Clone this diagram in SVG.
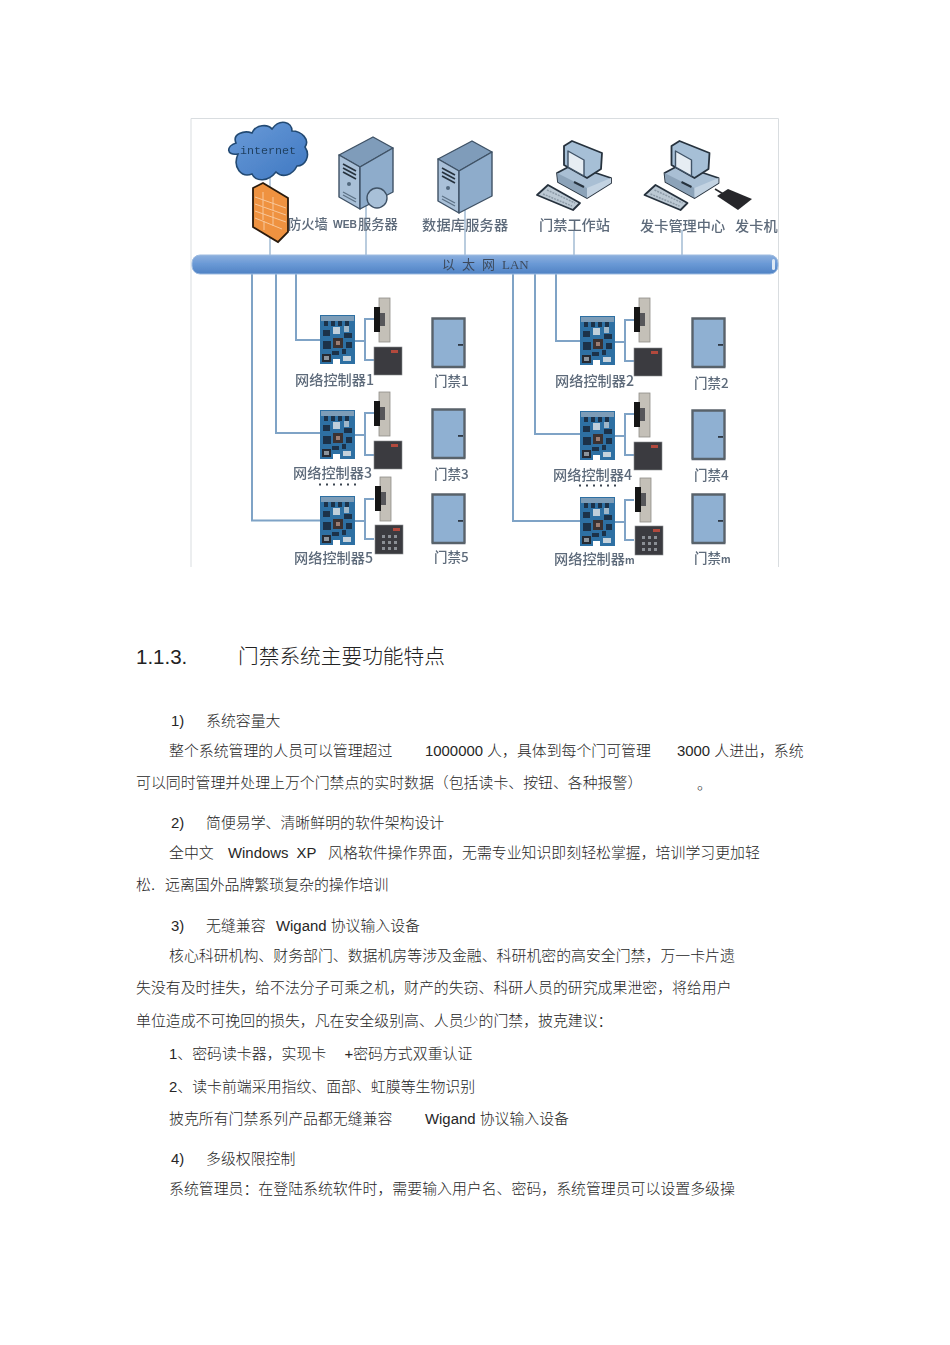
<svg xmlns="http://www.w3.org/2000/svg" width="950" height="1345" viewBox="0 0 950 1345">
<style>
.b{font-family:"Liberation Sans","Noto Sans CJK SC",sans-serif;font-size:14.9px;font-weight:300;fill:#262626}
.l{font-family:"Noto Sans CJK SC","Liberation Sans",sans-serif;font-size:14.2px;font-weight:500;fill:#5d6a7a}
.d{font-size:13.5px}
.m{font-size:10px;font-weight:700}
.f{font-size:13.3px}
.e{font-family:"Liberation Sans",sans-serif;font-size:11px;font-weight:700;fill:#5d6a7a}
.w{fill:none;stroke:#7fa3c6;stroke-width:2}
.t{fill:none;stroke:#a9c0d6;stroke-width:1.6}
.o{stroke:#27323e;stroke-width:1.8;stroke-linejoin:round}
.s{stroke:#3f5266;stroke-width:1.4;stroke-linejoin:round}
</style>
<defs>
<filter id="soft" x="-5%" y="-5%" width="110%" height="110%"><feGaussianBlur stdDeviation="0.7"/></filter>
<linearGradient id="bus" x1="0" y1="0" x2="0" y2="1"><stop offset="0" stop-color="#8db0de"/><stop offset=".45" stop-color="#6b9ad6"/><stop offset="1" stop-color="#4f82c4"/></linearGradient>
<linearGradient id="sky" x1="0" y1="0" x2="1" y2="1"><stop offset="0" stop-color="#6a9bd8"/><stop offset="1" stop-color="#3f78c2"/></linearGradient>
<g id="ctrl">
<rect width="35" height="49" fill="#2f6fa3"/>
<rect x="1" y="1" width="33" height="5" fill="#7d9db8"/>
<g fill="#1d3348"><rect x="4" y="6" width="4" height="5"/><rect x="11" y="6" width="4" height="5"/><rect x="18" y="6" width="4" height="5"/><rect x="25" y="6" width="4" height="5"/>
<rect x="3" y="15" width="7" height="6"/><rect x="24" y="18" width="8" height="5"/><rect x="3" y="26" width="8" height="8"/><rect x="26" y="27" width="6" height="6"/><rect x="12" y="36" width="7" height="4"/><rect x="22" y="34" width="4" height="5"/></g>
<rect x="13" y="12" width="7" height="7" fill="#c0cfdb"/><rect x="24" y="11" width="5" height="6" fill="#9fb6c8"/>
<rect x="13" y="23" width="10" height="10" fill="#3b3231"/><rect x="16" y="26" width="4" height="4" fill="#9b7d72"/>
<rect x="2" y="39" width="9" height="8" fill="#262c32"/><rect x="4" y="41" width="5" height="4" fill="#8b949c"/><rect x="23" y="41" width="8" height="5" fill="#c5d2dc"/><rect x="13" y="44" width="7" height="5" fill="#fff"/>
</g>
<g id="lock">
<rect x="5" y="0" width="11" height="44" fill="#c4c0b8" stroke="#8f8d88" stroke-width=".8"/>
<rect x="0" y="9" width="6" height="25" fill="#141414"/>
<rect x="6" y="15" width="5" height="13" fill="#56565a"/>
</g>
<g id="reader"><rect width="28" height="28" fill="#3a3b3f" stroke="#8a8d92" stroke-width=".6"/><rect x="17" y="3" width="7" height="3" fill="#b2483c"/></g>
<g id="keyreader"><rect width="28" height="29" fill="#3a3b3f" stroke="#8a8d92" stroke-width=".6"/><rect x="18" y="3" width="7" height="3" fill="#b2483c"/><g fill="#8b8f95"><rect x="7" y="10" width="3" height="3"/><rect x="13" y="10" width="3" height="3"/><rect x="19" y="10" width="3" height="3"/><rect x="7" y="16" width="3" height="3"/><rect x="13" y="16" width="3" height="3"/><rect x="19" y="16" width="3" height="3"/><rect x="7" y="22" width="3" height="3"/><rect x="13" y="22" width="3" height="3"/><rect x="19" y="22" width="3" height="3"/></g></g>
<g id="door"><rect x="1" y="1" width="33" height="49" fill="#8fb0d2"/><path d="M1.500,50V1.500H33.500V50M.5,50H34.500" fill="none" stroke="#59626b" stroke-width="2.400"/><rect x="27" y="27" width="5" height="1.800" fill="#2f3944"/></g>
<g id="server">
<polygon class="s" points="339,155 373,137 393,148 360,167" fill="#7f9cba"/>
<polygon class="s" points="339,155 360,167 360,209 339,197" fill="#a9c0d8"/>
<polygon class="s" points="360,167 393,148 393,192 360,209" fill="#8eaccb"/>
<path d="M343,164 356,171M343,168 356,175M343,172 356,179" stroke="#27323e" stroke-width="1.600"/>
<circle cx="349" cy="184" r="2" fill="#51677e"/>
<path d="M343,192 356,199M343,195 356,202" stroke="#5d7287" stroke-width="1.400"/>
</g>
<g id="pc">
<polygon class="o" points="557,173 572,165 611,178 611,183 587,198 558,182" fill="#a9bfd4"/>
<polygon points="557,173 587,188 587,198 558,182" fill="#8ca3b9"/>
<polygon points="587,188 611,178 611,183 587,198" fill="#c3d3e2"/>
<polygon class="o" points="564,146 572,141 602,153 601,169 587,178 564,165" fill="#a6bfd6"/>
<polygon class="s" points="568,151 584,160 584,176 568,167" fill="#e6edf3"/>
<path d="M574,182 584,187" stroke="#27323e" stroke-width="2"/>
<polygon class="o" points="537,195 548,185 580,203 573,210" fill="#bcc9d4"/>
<path d="M543,194 572,206M547,190 575,203" stroke="#8d9ba8" stroke-width="1.500" stroke-dasharray="2 1"/>
</g>
</defs>
<rect width="950" height="1345" fill="#fff"/>
<g id="frame" fill="none" stroke="#d9dde0" stroke-width="1"><path d="M191,567V118.500H778.500V567"/></g>
<g filter="url(#soft)">
<g id="connectors">
<path class="t" d="M270,178V256M366,205V256M465,210V256M574,230V256M682,230V256"/>
<path class="w" d="M296,274V340H321M276,274V433H321M252,274V520.500H321M556,274V341H581M535,274V434H581M513,274V521H581"/>
<path class="w" d="M355,341H365M374,319H365V360H374M355,435H365M374,413H365V455H374M355,521H365M374,499H365V539H374"/>
<path class="w" d="M615,342H625M634,320H625V361H634M615,436H625M634,414H625V455H634M615,522H625M634,500H625V540H634"/>
</g>
<g id="internet">
<path d="M238,154C226,156 226,146 236,143C232,134 244,130 252,133C256,124 268,124 272,129C280,118 292,122 292,131C302,131 310,140 305,147C311,156 305,166 297,166C292,176 282,178 276,172C268,182 256,182 252,174C242,178 232,168 238,154Z" fill="url(#sky)" stroke="#234a73" stroke-width="1.600"/>
<text x="240" y="154" font-family="'Liberation Mono',monospace" font-size="11.700" fill="#1f3f5f">internet</text>
</g>
<g id="firewall">
<polygon points="253,188 263,183 288,198 288,232 278,242 253,227" fill="#ef9240" stroke="#2b1a0c" stroke-width="1.800"/>
<path d="M255,197 286,208M255,204 286,215M255,211 286,222M255,218 282,229M263,192V206M273,197V210M263,207V220M273,212V226M264,221V230" stroke="#f8c79a" stroke-width="1" fill="none"/>
<text class="l f" x="288" y="229">防火墙</text>
</g>
<g id="web">
<use href="#server"/>
<circle cx="377" cy="198" r="10" fill="#a8c0d8" stroke="#3f5266" stroke-width="1.400"/>
<text class="e" x="333" y="228" textLength="24" lengthAdjust="spacingAndGlyphs">WEB</text>
<text class="l f" x="358" y="229">服务器</text>
</g>
<g id="db"><use href="#server" x="99" y="4"/><text class="l" x="422" y="230" letter-spacing=".2">数据库服务器</text></g>
<g id="workstation"><use href="#pc"/><text class="l" x="539" y="230">门禁工作站</text></g>
<g id="card-center"><use href="#pc" x="107.500"/><text class="l" x="640" y="231">发卡管理中心</text></g>
<g id="card-reader"><path d="M715,189 725,195" stroke="#26282b" stroke-width="1.500"/><polygon points="717,196 728,189 752,199 738,210" fill="#26282b"/><text class="l" x="735" y="231">发卡机</text></g>
<g id="lan">
<rect x="192" y="255" width="586" height="19" rx="8" fill="url(#bus)" stroke="#9dbbe0"/>
<rect x="772" y="259" width="3" height="11" rx="1.500" fill="#dce8f5"/>
<text x="442" y="269" font-family="'Liberation Serif',serif" font-size="13" fill="#3d4a5c"><tspan font-family="'Noto Sans CJK SC',sans-serif" letter-spacing="7">以太网</tspan>LAN</text>
</g>
<g id="ctrl1"><use href="#ctrl" x="320" y="315"/><use href="#lock" x="374" y="298"/><use href="#reader" x="374" y="347"/><text class="l" x="295" y="385">网络控制器1</text></g>
<g id="door1"><use href="#door" x="431" y="317"/><text class="l d" x="434" y="386">门禁1</text></g>
<g id="ctrl3"><use href="#ctrl" x="320" y="410"/><use href="#lock" x="374" y="392"/><use href="#reader" x="374" y="441"/><text class="l" x="293" y="478">网络控制器3</text></g>
<g id="door3"><use href="#door" x="431" y="408"/><text class="l d" x="434" y="479">门禁3</text></g>
<g id="ctrl5"><use href="#ctrl" x="320" y="496"/><use href="#lock" x="375" y="477"/><use href="#keyreader" x="375" y="525"/><text class="l" x="294" y="563">网络控制器5</text></g>
<g id="door5"><use href="#door" x="431" y="493"/><text class="l d" x="434" y="562">门禁5</text></g>
<g id="ctrl2"><use href="#ctrl" x="580" y="316"/><use href="#lock" x="634" y="298"/><use href="#reader" x="634" y="348"/><text class="l" x="555" y="386">网络控制器2</text></g>
<g id="door2"><use href="#door" x="691" y="317"/><text class="l d" x="694" y="388">门禁2</text></g>
<g id="ctrl4"><use href="#ctrl" x="580" y="411"/><use href="#lock" x="634" y="393"/><use href="#reader" x="634" y="442"/><text class="l" x="553" y="480">网络控制器4</text></g>
<g id="door4"><use href="#door" x="691" y="409"/><text class="l d" x="694" y="480">门禁4</text></g>
<g id="ctrlm"><use href="#ctrl" x="580" y="497"/><use href="#lock" x="635" y="478"/><use href="#keyreader" x="635" y="526"/><text class="l" x="554" y="564">网络控制器<tspan class="m">m</tspan></text></g>
<g id="doorm"><use href="#door" x="691" y="493"/><text class="l d" x="694" y="563">门禁<tspan class="m">m</tspan></text></g>
<g id="dots" fill="#3b4550"><path d="M319,483.500h2v2h-2zM326,483.500h2v2h-2zM333,483.500h2v2h-2zM340,483.500h2v2h-2zM347,483.500h2v2h-2zM354,483.500h2v2h-2z"/><path d="M579,484.500h2v2h-2zM586,484.500h2v2h-2zM593,484.500h2v2h-2zM600,484.500h2v2h-2zM607,484.500h2v2h-2zM614,484.500h2v2h-2z"/></g>
</g>
<g id="text">
<text x="136" y="664" font-family="'Liberation Sans',sans-serif" font-size="20.500" fill="#222">1.1.3.</text>
<text x="238" y="664" font-family="'Noto Sans CJK SC',sans-serif" font-size="20.700" font-weight="300" fill="#222">门禁系统主要功能特点</text>
<text class="b" x="171" y="726">1)</text><text class="b" x="206" y="726">系统容量大</text>
<text class="b" x="169" y="756">整个系统管理的人员可以管理超过</text><text class="b" x="425" y="756">1000000 人，具体到每个门可管理</text><text class="b" x="677" y="756">3000 人进出，系统</text>
<text class="b" x="136" y="788">可以同时管理并处理上万个门禁点的实时数据（包括读卡、按钮、各种报警）</text><text class="b" x="697" y="789">。</text>
<text class="b" x="171" y="828">2)</text><text class="b" x="206" y="828">简便易学、清晰鲜明的软件架构设计</text>
<text class="b" x="169" y="858">全中文</text><text class="b" x="228" y="858" word-spacing="4">Windows XP</text><text class="b" x="328" y="858">风格软件操作界面，无需专业知识即刻轻松掌握，培训学习更加轻</text>
<text class="b" x="136" y="890">松.</text><text class="b" x="165" y="890">远离国外品牌繁琐复杂的操作培训</text>
<text class="b" x="171" y="930.500">3)</text><text class="b" x="206" y="930.500">无缝兼容</text><text class="b" x="276" y="930.500">Wigand 协议输入设备</text>
<text class="b" x="169" y="961">核心科研机构、财务部门、数据机房等涉及金融、科研机密的高安全门禁，万一卡片遗</text>
<text class="b" x="136" y="993">失没有及时挂失，给不法分子可乘之机，财产的失窃、科研人员的研究成果泄密，将给用户</text>
<text class="b" x="136" y="1026">单位造成不可挽回的损失，凡在安全级别高、人员少的门禁，披克建议：</text>
<text class="b" x="169" y="1059">1、密码读卡器，实现卡</text><text class="b" x="344.500" y="1059">+密码方式双重认证</text>
<text class="b" x="169" y="1092">2、读卡前端采用指纹、面部、虹膜等生物识别</text>
<text class="b" x="169" y="1124">披克所有门禁系列产品都无缝兼容</text><text class="b" x="425" y="1124">Wigand 协议输入设备</text>
<text class="b" x="171" y="1164">4)</text><text class="b" x="206" y="1164">多级权限控制</text>
<text class="b" x="169" y="1194">系统管理员：在登陆系统软件时，需要输入用户名、密码，系统管理员可以设置多级操</text>
</g>
</svg>
